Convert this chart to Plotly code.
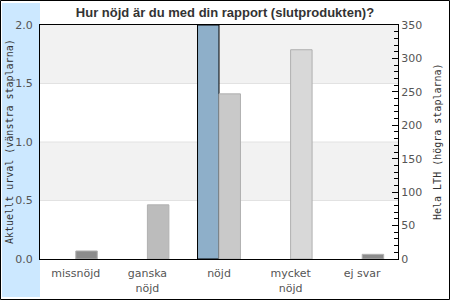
import plotly.graph_objects as go

categories = ["missnöjd", "ganska<br>nöjd", "nöjd", "mycket<br>nöjd", "ej svar"]
current_values = [None, None, 2.0, None, None]
lth_values = [12, 81, 247, 313, 7]
lth_colors = ["#8c8c8c", "#bcbcbc", "#c9c9c9", "#d8d8d8", "#8c8c8c"]
left_ticks = [0, 0.5, 1.0, 1.5, 2.0]
left_ticktext = ["0.0", "0.5", "1.0", "1.5", "2.0"]
right_ticks = [0, 50, 100, 150, 200, 250, 300, 350]

fig = go.Figure()
fig.add_trace(go.Bar(
    x=categories, y=current_values, yaxis="y", offsetgroup="a",
    marker=dict(color="#8eafc9", line=dict(color="#000000", width=1)),
    showlegend=False,
))
fig.add_trace(go.Bar(
    x=categories, y=lth_values, yaxis="y2", offsetgroup="b",
    marker=dict(color=lth_colors, line=dict(color="#b0b0b0", width=1)),
    showlegend=False,
))

PW, PH = 358, 234
shapes = []
# left blue strip
shapes.append(dict(type="rect", xref="paper", yref="paper",
                   x0=-38/PW, x1=0, y0=-38/PH, y1=1+22/PH,
                   fillcolor="#cce8ff", line=dict(width=0), layer="below"))
# alternating bands
for lo, hi in [(1.5, 2.0), (0.5, 1.0)]:
    shapes.append(dict(type="rect", xref="paper", yref="y", x0=0, x1=1, y0=lo, y1=hi,
                       fillcolor="#f2f2f2", line=dict(width=0), layer="below"))
for g in [0.5, 1.0, 1.5]:
    shapes.append(dict(type="line", xref="paper", yref="y", x0=0, x1=1, y0=g, y1=g,
                       line=dict(color="#e2e2e2", width=1), layer="below"))
# outer border
shapes.append(dict(type="rect", xref="paper", yref="paper",
                   x0=-39.5/PW, x1=1+51.5/PW, y0=-40.5/PH, y1=1+24.5/PH,
                   line=dict(color="#000000", width=1), fillcolor="rgba(0,0,0,0)"))

fig.update_layout(
    width=450, height=300,
    margin=dict(l=40, r=52, t=25, b=41, autoexpand=False),
    paper_bgcolor="white", plot_bgcolor="white",
    barmode="group", bargap=0.4, bargroupgap=0,
    shapes=shapes,
    title=dict(text="<b>Hur nöjd är du med din rapport (slutprodukten)?</b>",
               x=0.5, xanchor="center", y=1 - 12/300, yanchor="middle",
               font=dict(family="Liberation Sans, Arial", size=13, color="#333333")),
    font=dict(family="DejaVu Sans", size=11, color="#555555"),
    xaxis=dict(showline=True, linecolor="#000000", linewidth=1, mirror=True,
               ticks="", ticklabelstandoff=4, automargin=False,
               tickfont=dict(size=11, color="#555555"), fixedrange=True),
    yaxis=dict(range=[0, 2.0], tickvals=left_ticks, ticktext=left_ticktext,
               showgrid=False, zeroline=False, showline=True, linecolor="#000000",
               linewidth=1, ticks="", ticklabelstandoff=4, automargin=False,
               tickfont=dict(size=11, color="#555555")),
    yaxis2=dict(range=[0, 350], tickvals=right_ticks, overlaying="y", side="right",
                showgrid=False, zeroline=False, showline=True, linecolor="#000000",
                linewidth=1, ticks="inside", ticklen=6, tickcolor="#000000",
                automargin=False,
                minor=dict(dtick=10, ticks="inside", ticklen=4, tickcolor="#000000"),
                tickfont=dict(size=11, color="#555555")),
    annotations=[
        dict(text="Aktuellt urval (vänstra staplarna)", xref="paper", yref="paper",
             x=-31/PW, y=0.5, xanchor="center", yanchor="middle", textangle=-90,
             showarrow=False,
             font=dict(family="DejaVu Sans Mono", size=10, color="#333333")),
        dict(text="Hela LTH (högra staplarna)", xref="paper", yref="paper",
             x=1 + 39/PW, y=0.5, xanchor="center", yanchor="middle", textangle=-90,
             showarrow=False,
             font=dict(family="DejaVu Sans Mono", size=10, color="#333333")),
    ],
)

fig.write_html("out.html")
